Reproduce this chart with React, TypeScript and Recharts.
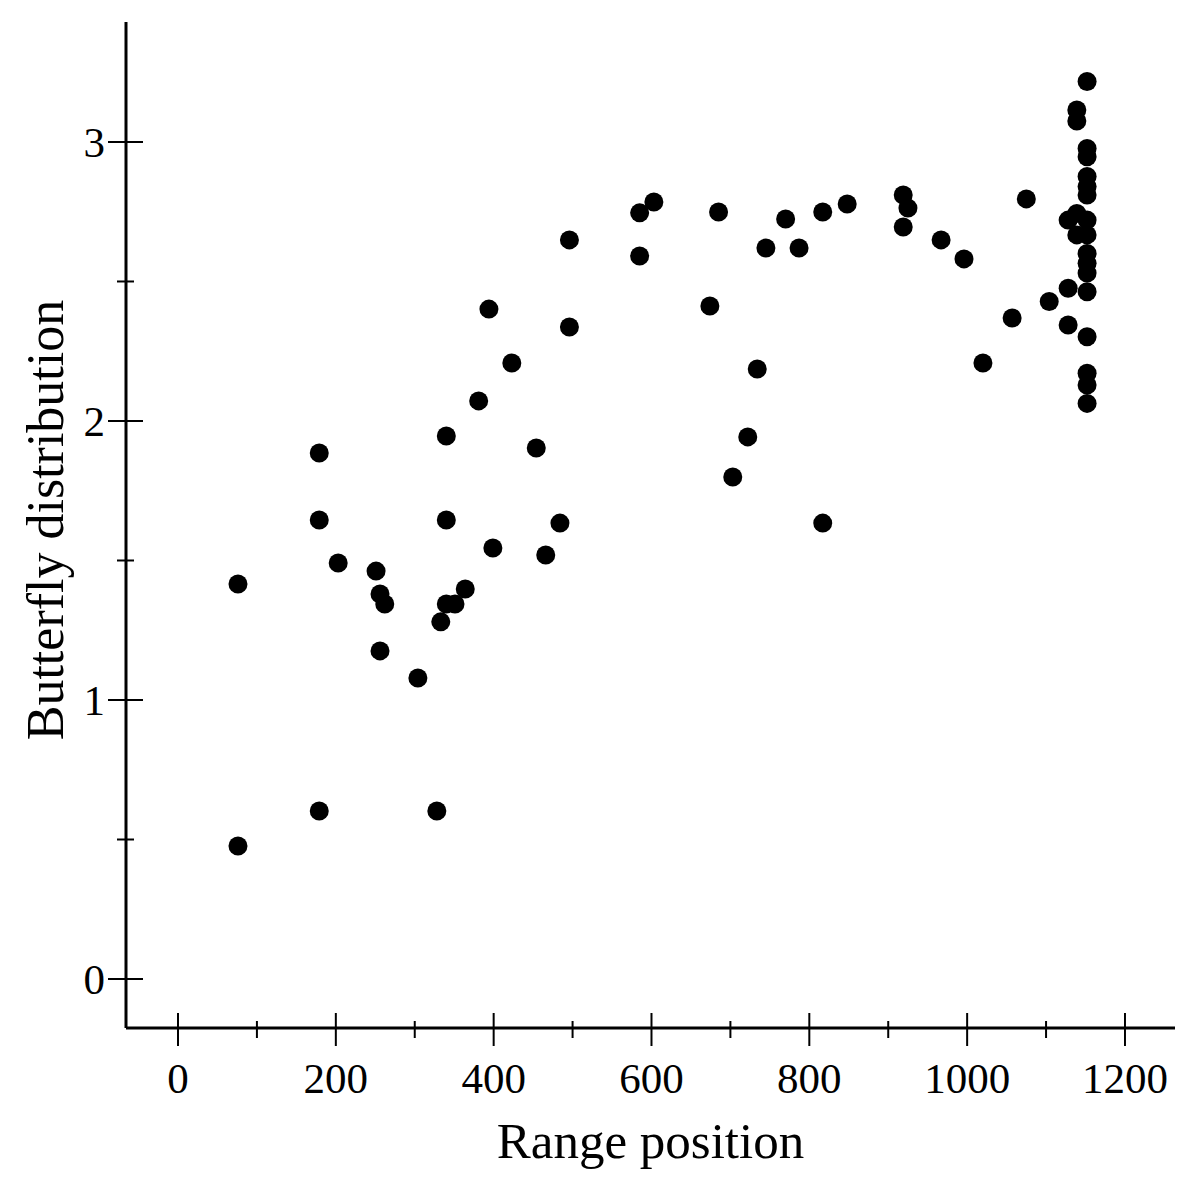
import React from 'react';
import { ScatterChart, Scatter, XAxis, YAxis, Label } from 'recharts';

// Range position (x) and butterfly distribution (y)
const rangePos = [
  76, 76, 179, 179, 179, 203, 251, 256, 256, 262,
  304, 328, 333, 340, 340, 340, 351, 364, 381, 394,
  399, 423, 454, 466, 484, 496, 496, 585, 585, 603,
  674, 685, 703, 722, 734, 745, 770, 787, 817, 817,
  848, 919, 919, 925, 967, 996, 1020, 1057, 1075, 1104,
  1128, 1128, 1128, 1139, 1139, 1139, 1139, 1152, 1152, 1152,
  1152, 1152, 1152, 1152, 1152, 1152, 1152, 1152, 1152, 1152,
  1152, 1152, 1152,
];
const butterfly = [
  0.477, 1.416, 0.602, 1.645, 1.885, 1.491, 1.462, 1.38, 1.176, 1.344,
  1.079, 0.602, 1.28, 1.344, 1.645, 1.946, 1.344, 1.398, 2.072, 2.401,
  1.545, 2.208, 1.903, 1.52, 1.634, 2.337, 2.649, 2.591, 2.746, 2.785,
  2.412, 2.749, 1.799, 1.943, 2.186, 2.62, 2.724, 2.62, 1.634, 2.749,
  2.778, 2.695, 2.81, 2.763, 2.649, 2.581, 2.208, 2.369, 2.796, 2.428,
  2.344, 2.476, 2.72, 2.744, 2.667, 3.075, 3.115, 3.217, 2.977, 2.947,
  2.876, 2.84, 2.81, 2.72, 2.667, 2.6, 2.565, 2.53, 2.463, 2.302,
  2.171, 2.129, 2.063,
];

const xTicks = [0, 100, 200, 300, 400, 500, 600, 700, 800, 900, 1000, 1100, 1200];
const yTicks = [0, 0.5, 1, 1.5, 2, 2.5, 3];

const data = rangePos.map((x, i) => ({ x, y: butterfly[i] }));

const FONT = '"Liberation Serif", "Times New Roman", serif';

const XTick = (props: any) => {
  const { x, y, payload } = props;
  const major = payload.value % 200 === 0;
  return (
    <g>
      <line x1={x} x2={x} y1={major ? y - 15 : y - 7} y2={major ? y + 18 : y + 10} stroke="#000" strokeWidth={2} />
      {major && (
        <text x={x} y={y + 65} textAnchor="middle" fontFamily={FONT} fontSize={43} fill="#000">
          {payload.value}
        </text>
      )}
    </g>
  );
};

const YTick = (props: any) => {
  const { x, y, payload } = props;
  const major = Number.isInteger(payload.value);
  return (
    <g>
      <line x1={major ? x - 18 : x - 9} x2={major ? x + 17 : x + 8} y1={y} y2={y} stroke="#000" strokeWidth={2} />
      {major && (
        <text x={x - 21} y={y + 15} textAnchor="end" fontFamily={FONT} fontSize={43} fill="#000">
          {payload.value}
        </text>
      )}
    </g>
  );
};

const Dot = (props: any) => <circle cx={props.cx} cy={props.cy} r={9.5} fill="#000" />;

export default function App() {
  return (
    <div style={{ position: 'absolute', left: 0, top: 0, background: '#fff' }}>
      <ScatterChart width={1200} height={1191} margin={{ top: 22, right: 25, bottom: 0, left: 0 }}>
        <XAxis
          type="number"
          dataKey="x"
          domain={[-65.9, 1263.4]}
          ticks={xTicks}
          allowDataOverflow
          height={163}
          tickSize={0}
          tickMargin={0}
          tickLine={false}
          tick={<XTick />}
          axisLine={{ stroke: '#000', strokeWidth: 3 }}
        >
          <Label
            content={(p: any) => (
              <text
                x={p.viewBox.x + p.viewBox.width / 2}
                y={p.viewBox.y + 130}
                textAnchor="middle"
                fontFamily={FONT}
                fontSize={51}
                fill="#000"
              >
                Range position
              </text>
            )}
          />
        </XAxis>
        <YAxis
          type="number"
          dataKey="y"
          domain={[-0.1756, 3.43]}
          ticks={yTicks}
          allowDataOverflow
          width={126}
          tickSize={0}
          tickMargin={0}
          tickLine={false}
          tick={<YTick />}
          axisLine={{ stroke: '#000', strokeWidth: 3 }}
        >
          <Label
            content={() => (
              <text
                x={63}
                y={520}
                transform="rotate(-90, 63, 520)"
                textAnchor="middle"
                fontFamily={FONT}
                fontSize={52}
                fill="#000"
              >
                Butterfly distribution
              </text>
            )}
          />
        </YAxis>
        <Scatter data={data} shape={<Dot />} isAnimationActive={false} />
      </ScatterChart>
    </div>
  );
}
